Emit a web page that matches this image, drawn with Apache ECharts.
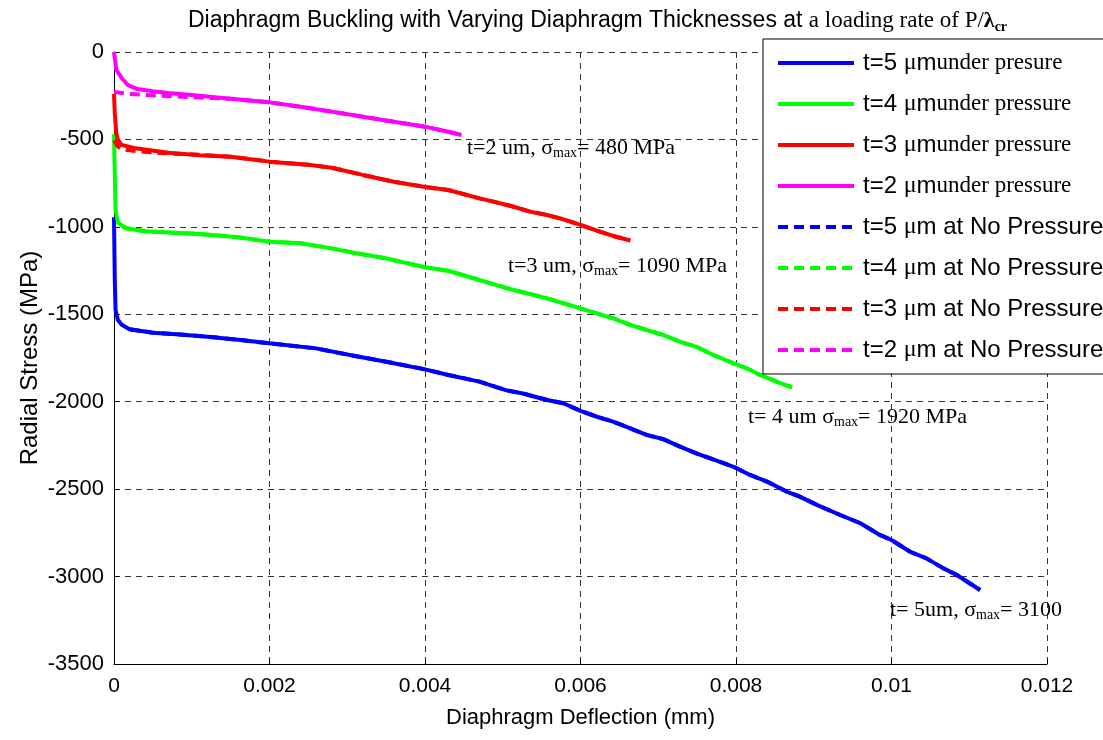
<!DOCTYPE html>
<html><head><meta charset="utf-8">
<script src="https://cdn.jsdelivr.net/npm/echarts@6/dist/echarts.min.js"></script>
<style>html,body{margin:0;padding:0;background:#fff}#c{width:1103px;height:740px}</style>
</head><body><div id="c"></div>
<script>
// ---- data (x: deflection in mm, y: radial stress in MPa) ----
const t5Under = [[0,-945],[0.00001,-1300],[0.00002,-1476],[0.00005,-1533],[0.0001,-1560],[0.0002,-1586],[0.0005,-1605],[0.0008,-1614],[0.0012,-1628],[0.0016,-1646],[0.002,-1666],[0.0026,-1695],[0.0031,-1739],[0.0035,-1771],[0.004,-1815],[0.0043,-1847],[0.0047,-1885],[0.00505,-1935],[0.00526,-1953],[0.00557,-1990],[0.00578,-2009],[0.006,-2052],[0.00621,-2086],[0.00642,-2114],[0.00664,-2152],[0.00685,-2190],[0.00707,-2215],[0.00728,-2257],[0.00749,-2295],[0.00775,-2337],[0.00797,-2372],[0.00818,-2419],[0.0084,-2457],[0.00865,-2514],[0.00882,-2543],[0.00904,-2590],[0.00934,-2648],[0.0096,-2695],[0.00985,-2762],[0.01,-2791],[0.01024,-2858],[0.01045,-2896],[0.01067,-2953],[0.01084,-2991],[0.01114,-3077]];
const t4Under = [[0,-470],[0.00001,-700],[0.00002,-904],[0.00005,-975],[0.0001,-992],[0.00016,-1008],[0.0004,-1025],[0.0011,-1041],[0.0016,-1060],[0.002,-1085],[0.0024,-1094],[0.0028,-1123],[0.0031,-1150],[0.0035,-1180],[0.004,-1231],[0.0043,-1251],[0.0047,-1304],[0.00492,-1333],[0.00514,-1361],[0.00535,-1384],[0.00557,-1409],[0.00578,-1437],[0.006,-1466],[0.00621,-1495],[0.00642,-1523],[0.00664,-1561],[0.00685,-1590],[0.00707,-1619],[0.00728,-1657],[0.00749,-1686],[0.00771,-1733],[0.00797,-1781],[0.00814,-1809],[0.00831,-1847],[0.00853,-1886],[0.00872,-1918]];
const t3Under = [[0,-240],[0.00001,-350],[0.00003,-465],[0.00005,-503],[0.0001,-532],[0.00028,-551],[0.0007,-576],[0.0011,-590],[0.0015,-599],[0.002,-627],[0.0025,-645],[0.0028,-662],[0.0032,-703],[0.0036,-742],[0.004,-772],[0.0043,-789],[0.0047,-837],[0.00492,-860],[0.00514,-885],[0.00535,-913],[0.00557,-932],[0.00578,-957],[0.006,-989],[0.00621,-1022],[0.00642,-1052],[0.00664,-1078]];
const t2Under = [[0,0],[0.00003,-103],[0.0001,-150],[0.00018,-189],[0.0003,-212],[0.0005,-225],[0.0007,-235],[0.001,-246],[0.0015,-268],[0.002,-288],[0.0024,-313],[0.0028,-341],[0.0032,-370],[0.0036,-399],[0.004,-427],[0.0043,-456],[0.00447,-475]];
const t5NoP = [[0.0002,-1586],[0.0005,-1605],[0.0008,-1614],[0.0012,-1628],[0.0016,-1646],[0.002,-1666],[0.0026,-1695],[0.0031,-1739],[0.0035,-1771],[0.004,-1815],[0.0043,-1847],[0.0047,-1885],[0.00505,-1935],[0.00526,-1953],[0.00557,-1990],[0.00578,-2009],[0.006,-2052],[0.00621,-2086],[0.00642,-2114],[0.00664,-2152],[0.00685,-2190],[0.00707,-2215],[0.00728,-2257],[0.00749,-2295],[0.00775,-2337],[0.00797,-2372],[0.00818,-2419],[0.0084,-2457],[0.00865,-2514],[0.00882,-2543],[0.00904,-2590],[0.00934,-2648],[0.0096,-2695],[0.00985,-2762],[0.01,-2791],[0.01024,-2858],[0.01045,-2896],[0.01067,-2953],[0.01084,-2991],[0.01114,-3077]];
const t4NoP = [[0.0001,-995],[0.00016,-1008],[0.0004,-1025],[0.0011,-1041],[0.0016,-1060],[0.002,-1085],[0.0024,-1094],[0.0028,-1123],[0.0031,-1150],[0.0035,-1180],[0.004,-1231],[0.0043,-1251],[0.0047,-1304],[0.00492,-1333],[0.00514,-1361],[0.00535,-1384],[0.00557,-1409],[0.00578,-1437],[0.006,-1466],[0.00621,-1495],[0.00642,-1523],[0.00664,-1561],[0.00685,-1590],[0.00707,-1619],[0.00728,-1657],[0.00749,-1686],[0.00771,-1733],[0.00797,-1781],[0.00814,-1809],[0.00831,-1847],[0.00853,-1886],[0.00872,-1918]];
const t3NoP = [[0,-505],[0.00005,-540],[0.0001,-556],[0.0003,-568],[0.0007,-580],[0.0011,-588],[0.0015,-599],[0.002,-627],[0.0025,-645],[0.0028,-662],[0.0032,-703],[0.0036,-742],[0.004,-772],[0.0043,-789],[0.0047,-837],[0.00492,-860],[0.00514,-885],[0.00535,-913],[0.00557,-932],[0.00578,-957],[0.006,-989],[0.00621,-1022],[0.00642,-1052],[0.00664,-1078]];
const t2NoP = [[0,-228],[0.0002,-240],[0.0006,-250],[0.001,-258],[0.0015,-268],[0.002,-288],[0.0024,-313],[0.0028,-341],[0.0032,-370],[0.0036,-399],[0.004,-427],[0.0043,-456],[0.00447,-475]];

const seriesNames = ['t=5 μm under presure','t=4 μm under pressure','t=3 μm under pressure','t=2 μm under pressure',
  't=5 μm at No Pressure','t=4 μm at No Pressure','t=3 μm at No Pressure','t=2 μm at No Pressure'];
const seriesData = [t5Under, t4Under, t3Under, t2Under, t5NoP, t4NoP, t3NoP, t2NoP];
const seriesColors = ['#0000ff','#00ff00','#ff0000','#ff00ff','#0000ff','#00ff00','#ff0000','#ff00ff'];
const xTickLabels = ['0','0.002','0.004','0.006','0.008','0.01','0.012'];
const yTickLabels = ['-3500','-3000','-2500','-2000','-1500','-1000','-500','0'];

const titleMain = 'Diaphragm Buckling with Varying Diaphragm Thicknesses at';
const titleSub = 'a loading rate of P/';
const annotations = [
  {pre:'t=2 um, σ', post:'= 480 MPa', x:467, y:148},
  {pre:'t=3 um, σ', post:'= 1090 MPa', x:508, y:266},
  {pre:'t= 4 um σ', post:'= 1920 MPa', x:748, y:417},
  {pre:'t= 5um, σ', post:'= 3100', x:890, y:610}
];

const SANS = 'Liberation Sans, Arial, sans-serif';
const SERIF = 'Liberation Serif, Times New Roman, serif';

const chart = echarts.init(document.getElementById('c'), null, {renderer:'canvas'});

const series = seriesNames.map((n, i) => ({
  name: n, type: 'line', data: seriesData[i], symbol: 'none', showSymbol: false,
  animation: false, smooth: false,
  itemStyle: {color: seriesColors[i]},
  lineStyle: {color: seriesColors[i], width: 4, type: i < 4 ? 'solid' : [10, 6]},
  z: i < 4 ? 2 : 3
}));

const option = {
  backgroundColor: '#fff',
  animation: false,
  title: {
    text: '{a|' + titleMain + ' }{b|' + titleSub + '}{l|λ}{s|cr}',
    left: 188, top: 8, padding: 0,
    textStyle: {
      fontWeight: 'normal',
      rich: {
        a: {fontFamily: SANS, fontSize: 23, fontWeight: 'normal', color: '#000', lineHeight: 26},
        b: {fontFamily: SERIF, fontSize: 23, fontWeight: 'normal', color: '#000', lineHeight: 26},
        l: {fontFamily: SERIF, fontSize: 22, fontWeight: 'bold', color: '#000', lineHeight: 26},
        s: {fontFamily: SERIF, fontSize: 14, fontWeight: 'bold', color: '#000', lineHeight: 14, verticalAlign: 'bottom'}
      }
    }
  },
  grid: {left: 114, top: 52, right: 56, bottom: 76},
  xAxis: {
    type: 'value', min: 0, max: 0.012, interval: 0.002,
    name: 'Diaphragm Deflection (mm)', nameLocation: 'middle', nameGap: 43,
    nameTextStyle: {fontFamily: SANS, fontSize: 22, color: '#000'},
    axisLine: {show: true, onZero: false, lineStyle: {color: '#000', width: 1}},
    axisTick: {show: true, inside: true, length: 5, lineStyle: {color: '#000'}},
    axisLabel: {margin: 12, fontFamily: SANS, fontSize: 21, color: '#000',
      formatter: (v, idx) => xTickLabels[idx]},
    splitLine: {show: true, lineStyle: {color: '#333', width: 1, type: [6, 5]}}
  },
  yAxis: {
    type: 'value', min: -3500, max: 0, interval: 500,
    axisLine: {show: true, onZero: false, lineStyle: {color: '#000', width: 1}},
    axisTick: {show: true, inside: true, length: 5, lineStyle: {color: '#000'}},
    axisLabel: {margin: 10, fontFamily: SANS, fontSize: 22, color: '#000',
      formatter: (v, idx) => yTickLabels[idx]},
    splitLine: {show: true, lineStyle: {color: '#333', width: 1, type: [6, 5]}}
  },
  legend: {
    orient: 'vertical', left: 763, top: 39,
    padding: [12, 80, 12, 13], itemGap: 17, itemWidth: 76, itemHeight: 14,
    backgroundColor: '#fff', borderColor: '#000', borderWidth: 1, borderRadius: 0,
    selectedMode: false,
    itemStyle: {opacity: 0, borderWidth: 0},
    lineStyle: {width: 4},
    data: seriesNames,
    formatter: (name) => {
      const m = name.match(/^(t=\d) μm (.*)$/);
      if (m[2].startsWith('under')) {
        return '{a|' + m[1] + ' }{mu|μ}{c|m}{b|' + m[2] + '}';
      }
      return '{a|' + m[1] + ' }{mu|μ}{c|m ' + m[2] + '}';
    },
    textStyle: {
      color: '#000',
      rich: {
        a: {fontFamily: SANS, fontSize: 24, color: '#000', lineHeight: 24, padding: [0, 0, 0, 4]},
        c: {fontFamily: SANS, fontSize: 24, color: '#000', lineHeight: 24},
        mu: {fontFamily: SERIF, fontSize: 24, color: '#000', lineHeight: 24, verticalAlign: 'bottom'},
        b: {fontFamily: SERIF, fontSize: 23, color: '#000', lineHeight: 24}
      }
    }
  },
  graphic: [
    {
      type: 'text', x: 30, y: 358, rotation: Math.PI / 2,
      style: {text: 'Radial Stress (MPa)', fill: '#000', font: '24px ' + SANS, align: 'center', verticalAlign: 'middle'}
    }
  ].concat(annotations.map(a => ({
    type: 'text', x: a.x, y: a.y, z: 10,
    style: {
      text: '{a|' + a.pre + '}{s|max}{a|' + a.post + '}',
      verticalAlign: 'middle', align: 'left',
      rich: {
        a: {fontFamily: SERIF, fontSize: 22, fill: '#000', lineHeight: 24},
        s: {fontFamily: SERIF, fontSize: 14, fill: '#000', lineHeight: 14, verticalAlign: 'bottom'}
      }
    }
  }))),
  series: series
};
chart.setOption(option);
</script></body></html>
